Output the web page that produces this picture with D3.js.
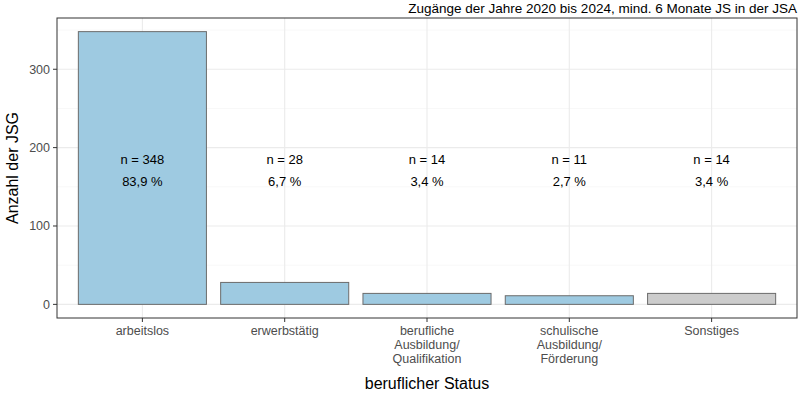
<!DOCTYPE html><html><head><meta charset="utf-8"><script src="https://cdn.jsdelivr.net/npm/d3@7"></script>
<style>body{margin:0}text{font-family:"Liberation Sans",Arial,sans-serif}</style></head><body><svg id="c" width="800" height="400"></svg>
<script>
const categories=["arbeitslos","erwerbstätig","berufliche\nAusbildung/\nQualifikation","schulische\nAusbildung/\nFörderung","Sonstiges"];
const counts=[348,28,14,11,14];
const percents=["83,9 %","6,7 %","3,4 %","2,7 %","3,4 %"];
const colors=["#9ecae1","#9ecae1","#9ecae1","#9ecae1","#cccccc"];
const yTicks=[0,100,200,300];
const svg=d3.select("#c");
const L=57,R=797,T=18,B=318;
const y=d3.scaleLinear().domain([-17.4,365.4]).range([B,T]);
const xl=d3.scaleLinear().domain([0.4,5.6]).range([L,R]);
const cxOf=i=>xl(i+1), bw=xl(1.9)-xl(1);
const g=svg.append("g");
[50,150,250,350].forEach(v=>g.append("line").attr("x1",L).attr("x2",R).attr("y1",y(v)).attr("y2",y(v)).attr("stroke","#f3f3f3").attr("stroke-width",0.6));
yTicks.forEach(v=>g.append("line").attr("x1",L).attr("x2",R).attr("y1",y(v)).attr("y2",y(v)).attr("stroke","#ebebeb").attr("stroke-width",1.1));
d3.range(5).forEach(i=>g.append("line").attr("y1",T).attr("y2",B).attr("x1",cxOf(i)).attr("x2",cxOf(i)).attr("stroke","#ebebeb").attr("stroke-width",1.1));
svg.selectAll("rect.b").data(counts).join("rect").attr("x",(d,i)=>cxOf(i)-bw/2).attr("width",bw).attr("y",d=>y(d)).attr("height",d=>y(0)-y(d)).attr("fill",(d,i)=>colors[i]).attr("stroke","#6b6b6b").attr("stroke-width",1);
counts.forEach((d,i)=>{const cx=cxOf(i);
svg.append("text").attr("x",cx).attr("y",y(186)+5).attr("text-anchor","middle").attr("font-size",13).text("n = "+d);
svg.append("text").attr("x",cx).attr("y",y(158)+5).attr("text-anchor","middle").attr("font-size",13).text(percents[i]);});
svg.append("rect").attr("x",L).attr("y",T).attr("width",R-L).attr("height",B-T).attr("fill","none").attr("stroke","#333").attr("stroke-width",1);
yTicks.forEach(v=>{svg.append("line").attr("x1",L-4).attr("x2",L).attr("y1",y(v)).attr("y2",y(v)).attr("stroke","#333");
svg.append("text").attr("x",L-7).attr("y",y(v)+4.5).attr("text-anchor","end").attr("font-size",12.5).attr("fill","#4d4d4d").text(v);});
categories.forEach((c,i)=>{const cx=cxOf(i);
svg.append("line").attr("x1",cx).attr("x2",cx).attr("y1",B).attr("y2",B+4).attr("stroke","#333");
c.split("\n").forEach((l,j)=>svg.append("text").attr("x",cx).attr("y",B+17+j*14).attr("text-anchor","middle").attr("font-size",12.5).attr("fill","#4d4d4d").text(l));});
svg.append("text").attr("x",(L+R)/2).attr("y",389).attr("text-anchor","middle").attr("font-size",16).text("beruflicher Status");
svg.append("text").attr("transform",`translate(18,${(T+B)/2}) rotate(-90)`).attr("text-anchor","middle").attr("font-size",16).text("Anzahl der JSG");
svg.append("text").attr("x",R).attr("y",13).attr("text-anchor","end").attr("font-size",13.5).text("Zugänge der Jahre 2020 bis 2024, mind. 6 Monate JS in der JSA");
</script></body></html>
